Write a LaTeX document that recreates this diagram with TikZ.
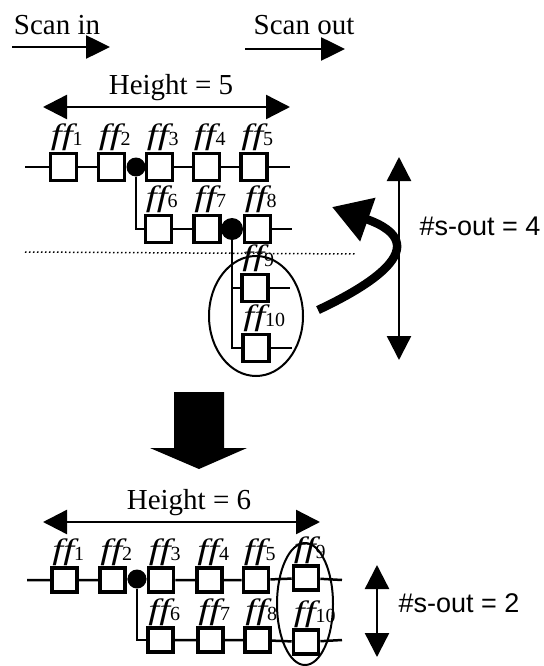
\documentclass[tikz,border=0pt]{standalone}
\usepackage{fontspec}
\setmainfont{Liberation Serif}
\newfontfamily\labsans{Liberation Sans}
\usetikzlibrary{arrows.meta, shapes.geometric}

\newcommand{\ffname}[1]{\scalebox{1.4}[1.05]{\itshape ff}{\fontsize{20}{20}\selectfont\raisebox{-1pt}{#1}}}

\begin{document}
\begin{tikzpicture}[x=1pt, y=-1pt,
  ffbox/.style={rectangle, draw=black, line width=3.6pt, minimum width=26pt, minimum height=27pt, inner sep=0pt},
  ffsbox/.style={ffbox, minimum width=25pt, minimum height=24pt},
  fflab/.style={anchor=base west, inner sep=0pt, font=\fontsize{28}{28}\selectfont},
  jdot/.style={circle, fill=black, inner sep=0pt, minimum size=19pt},
  wire/.style={line width=2.5pt},
  grp/.style={ellipse, draw=black, line width=2pt, inner sep=0pt},
  dim/.style={line width=2.4pt, {Triangle[length=24pt,width=24pt]}-{Triangle[length=24pt,width=24pt]}},
  scan/.style={line width=2.6pt, -{Triangle[length=24pt,width=23pt]}},
  txt/.style={font=\fontsize{29}{32}\selectfont, inner sep=0pt},
  stxt/.style={font=\labsans\fontsize{27}{30}\selectfont, inner sep=0pt}
]
\useasboundingbox (0,0) rectangle (543,666);

% Scan directions
\node[txt] (scanin) at (57,25) {Scan in};
\coordinate (si1) at (12,47);
\coordinate (si2) at (110,47);
\draw[scan] (si1) -- (si2);
\node[txt] (scanout) at (304,25) {Scan out};
\coordinate (so1) at (245,49);
\coordinate (so2) at (345,49);
\draw[scan] (so1) -- (so2);

% Height = 5
\node[txt] (h5) at (171,88) {Height = 5};
\coordinate (h5l) at (43,107);
\coordinate (h5r) at (290,107);
\draw[dim] (h5l) -- (h5r);

% upper chains
\foreach \n/\x/\y in {1/63.5/167, 2/111.5/167, 3/159.5/167, 4/206.5/167, 5/254/167,
                      6/158.5/229, 7/207/229, 8/257.5/229, 9/255/288, 10/256/348}{
  \node[ffbox] (f\n) at (\x,\y) {};
  \node[fflab] (lf\n) at ([xshift=2pt,yshift=7pt]f\n.north west) {\ffname{\n}};
}
\node[jdot] (d1) at (136,167) {};
\node[jdot, minimum size=22pt] (d2) at (232,229) {};
\coordinate (tin) at (25,167);
\coordinate (tout) at (290,167);
\coordinate (mout) at (292,229);
\coordinate (o9) at (290,288);
\coordinate (o10) at (292,348);
\draw[wire] (tin) -- (f1) -- (f2) -- (d1) -- (f3) -- (f4) -- (f5) -- (tout);
\draw[wire] (d1) |- (f6);
\draw[wire] (f6) -- (f7) -- (d2) -- (f8) -- (mout);
\draw[wire] (d2) |- (f9);
\draw[wire] (d2) |- (f10);
\draw[wire] (f9) -- (o9);
\draw[wire] (f10) -- (o10);

% cut line and moved group
\coordinate (cut1) at (25,252);
\coordinate (cut2) at (355,254);
\draw[line width=1.5pt, dash pattern=on 1.5pt off 2.5pt] (cut1) -- (cut2);
\node[grp, minimum width=94pt, minimum height=120pt] (grp1) at (256,316) {};
\coordinate (mv1) at (318,310);
\coordinate (mv2) at (332,207);
\draw[line width=8.5pt, -{Triangle[length=38pt,width=44pt]}] (mv1) .. controls (365,288) and (440,245) .. (mv2);

% #s-out = 4
\coordinate (s4t) at (399,157);
\coordinate (s4b) at (399,360);
\draw[dim] (s4t) -- (s4b);
\node[stxt] (s4) at (480,226) {\#s-out = 4};

% big arrow
\fill[black] (174,392) -- (224,392) -- (224,448) -- (247,448) -- (199,469)
  -- (150,448) -- (174,448) -- cycle;

% Height = 6
\node[txt] (h6) at (189,503) {Height = 6};
\coordinate (h6l) at (43,522);
\coordinate (h6r) at (320,522);
\draw[dim] (h6l) -- (h6r);

% lower chains
\foreach \n/\x/\y in {1/64.5/580, 2/112.5/580, 3/161/580, 4/209.5/580, 5/256/580,
                      6/160.5/640, 7/210.5/640, 8/257.5/640, 9/306/578, 10/306/642}{
  \node[ffsbox] (g\n) at (\x,\y) {};
  \node[fflab] (lg\n) at ([xshift=2pt,yshift=7pt]g\n.north west) {\ffname{\n}};
}
\node[jdot] (e1) at (137,579) {};
\coordinate (bin) at (27,580);
\coordinate (bout) at (342,580);
\coordinate (bout2) at (342,640);
\draw[wire] (bin) -- (g1) -- (g2) -- (e1) -- (g3) -- (g4) -- (g5) -- (g9) -- (bout);
\draw[wire] (e1) |- (g6);
\draw[wire] (g6) -- (g7) -- (g8) -- (g10) -- (bout2);
\node[grp, minimum width=56pt, minimum height=122pt] (grp2) at (305,604) {};

% #s-out = 2
\coordinate (s2t) at (377,565);
\coordinate (s2b) at (377,657);
\draw[dim] (s2t) -- (s2b);
\node[stxt] (s2) at (459,603) {\#s-out = 2};

\end{tikzpicture}
\end{document}
